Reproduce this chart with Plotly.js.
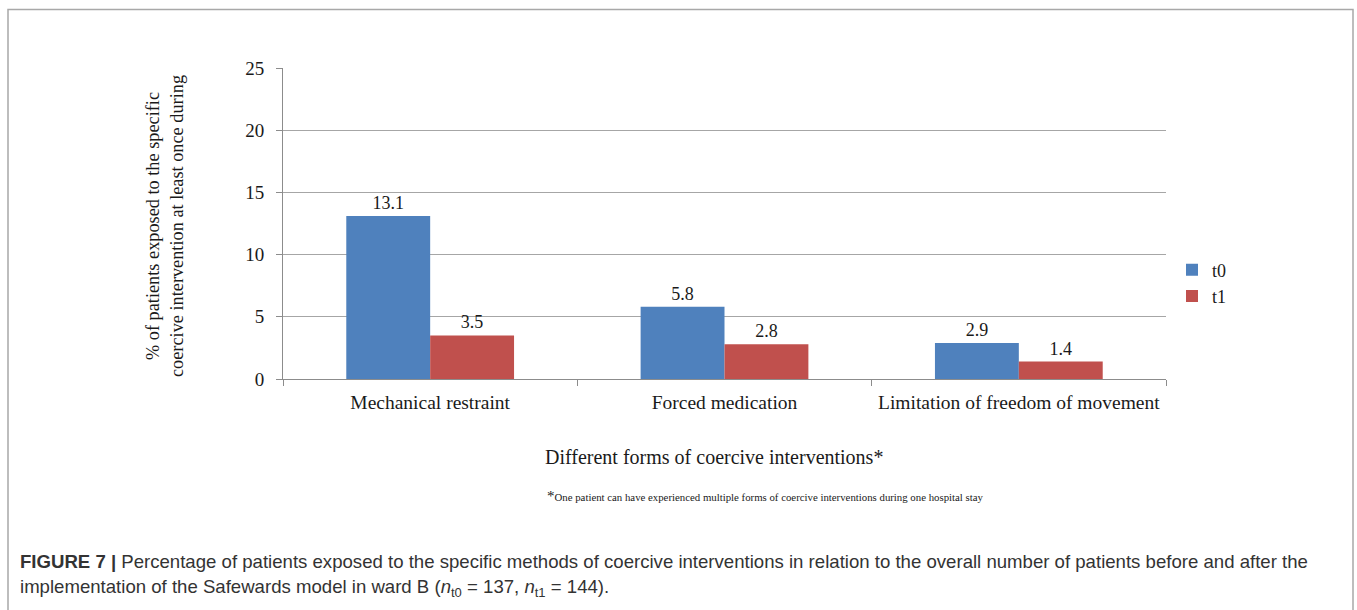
<!DOCTYPE html>
<html>
<head>
<meta charset="utf-8">
<script src="https://cdn.plot.ly/plotly-3.0.1.min.js"></script>
<style>
  html, body { margin: 0; padding: 0; background: #fff; }
  #chart { width: 1357px; height: 610px; }
</style>
</head>
<body>
<div id="chart"></div>
<script>
// Coercive intervention categories and the share of patients per period
const categories = ["Mechanical restraint", "Forced medication", "Limitation of freedom of movement"];
const t0Values = [13.1, 5.8, 2.9];
const t1Values = [3.5, 2.8, 1.4];
const seriesNames = ["t0", "t1"];
const yTicks = [0, 5, 10, 15, 20, 25];

const serif = "Liberation Serif, Times New Roman, serif";
const sans = "Liberation Sans, Arial, Helvetica, sans-serif";

function barTrace(name, values, color) {
  return {
    type: "bar",
    name: name,
    x: categories,
    y: values,
    marker: { color: color, line: { width: 0 } },
    text: values.map(v => v.toFixed(1)),
    textposition: "outside",
    textfont: { family: serif, size: 18, color: "#1a1a1a" },
    cliponaxis: false,
    hoverinfo: "x+y+name"
  };
}

const data = [
  barTrace(seriesNames[0], t0Values, "#4F81BD"),
  barTrace(seriesNames[1], t1Values, "#C0504D")
];

const W = 1357, H = 610;
const L = 283, R = 1166, T = 68, B = 379;
const px = x => (x - L) / (R - L);
const py = y => (B - y) / (B - T);

const layout = {
  width: W,
  height: H,
  margin: { l: L, r: W - R, t: T, b: H - B, pad: 0 },
  paper_bgcolor: "#ffffff",
  plot_bgcolor: "#ffffff",
  barmode: "group",
  bargap: 0.43,
  bargroupgap: 0,
  showlegend: true,
  legend: {
    x: px(1172), y: py(283), xanchor: "left", yanchor: "middle",
    font: { family: serif, size: 18, color: "#1a1a1a" },
    itemwidth: 30, tracegroupgap: 8, bgcolor: "rgba(0,0,0,0)"
  },
  xaxis: {
    type: "category",
    showline: true, linecolor: "#8c8c8c", linewidth: 1,
    ticks: "outside", tickson: "boundaries", ticklen: 6, tickcolor: "#8c8c8c",
    tickangle: 0, ticklabelstandoff: 6,
    tickfont: { family: serif, size: 19.5, color: "#1a1a1a" },
    showgrid: false, zeroline: false, fixedrange: true
  },
  yaxis: {
    range: [0, 25],
    tickvals: yTicks,
    ticktext: yTicks.map(String),
    showline: true, linecolor: "#8c8c8c", linewidth: 1,
    ticks: "outside", ticklen: 6, tickcolor: "#8c8c8c",
    ticklabelstandoff: 8,
    tickfont: { family: serif, size: 19, color: "#1a1a1a" },
    showgrid: true, gridcolor: "#a6a6a6", gridwidth: 1,
    zeroline: false, fixedrange: true
  },
  annotations: [
    {
      xref: "paper", yref: "paper", x: px(165), y: py(226),
      xanchor: "center", yanchor: "middle", textangle: -90, showarrow: false,
      text: "% of patients exposed to the specific<br>coercive intervention at least once during",
      font: { family: serif, size: 18.3, color: "#1a1a1a" }
    },
    {
      xref: "paper", yref: "paper", x: px(714), y: py(457),
      xanchor: "center", yanchor: "middle", showarrow: false,
      text: "Different forms of coercive interventions*",
      font: { family: serif, size: 20, color: "#1a1a1a" }
    },
    {
      xref: "paper", yref: "paper", x: px(765), y: py(496),
      xanchor: "center", yanchor: "middle", showarrow: false,
      text: "<span style='font-size:15px'>*</span>One patient can have experienced multiple forms of coercive interventions during one hospital stay",
      font: { family: serif, size: 10.8, color: "#1a1a1a" }
    },
    {
      xref: "paper", yref: "paper", x: px(18), y: py(561),
      xanchor: "left", yanchor: "middle", showarrow: false, align: "left",
      text: "<b>FIGURE 7 |</b> Percentage of patients exposed to the specific methods of coercive interventions in relation to the overall number of patients before and after the",
      font: { family: sans, size: 18.6, color: "#333333" }
    },
    {
      xref: "paper", yref: "paper", x: px(18), y: py(588),
      xanchor: "left", yanchor: "middle", showarrow: false, align: "left",
      text: "implementation of the Safewards model in ward B (<i>n</i><sub>t0</sub> = 137, <i>n</i><sub>t1</sub> = 144).",
      font: { family: sans, size: 18.6, color: "#333333" }
    }
  ],
  shapes: [
    {
      type: "rect", xref: "paper", yref: "paper", layer: "below",
      x0: px(8), x1: px(1353), y0: py(640), y1: py(9.5),
      line: { color: "#a8a8a8", width: 1.5 }, fillcolor: "rgba(0,0,0,0)"
    }
  ]
};

Plotly.newPlot("chart", data, layout, { displayModeBar: false, staticPlot: true });
</script>
</body>
</html>
